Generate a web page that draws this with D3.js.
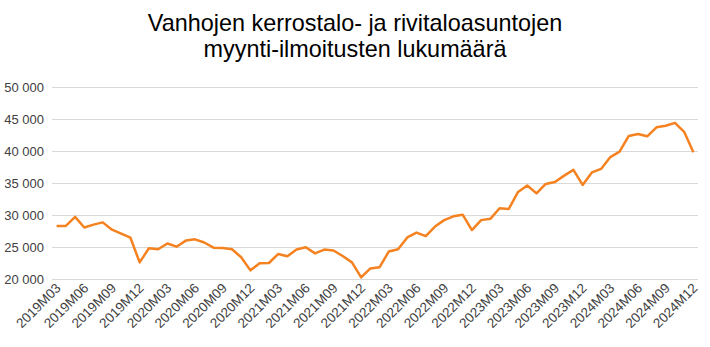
<!DOCTYPE html>
<html><head><meta charset="utf-8">
<script src="https://cdn.jsdelivr.net/npm/d3@7"></script>
<style>body{margin:0;background:#fff;}svg{display:block;font-family:"Liberation Sans",Arial,sans-serif;}</style>
</head><body>
<svg id="c" width="710" height="347"></svg>
<script>
const titleLines = ["Vanhojen kerrostalo- ja rivitaloasuntojen", "myynti-ilmoitusten lukumäärä"];
const years = [2019, 2020, 2021, 2022, 2023, 2024];
const months = [];
years.forEach(yr => { for (let m = 1; m <= 12; m++) { if (yr === 2019 && m < 3) continue; months.push(yr + "M" + String(m).padStart(2, "0")); } });
const values = [28280, 28300, 29700, 28050, 28500, 28850, 27700, 27100, 26450, 22600,
  24800, 24650, 25550, 25050, 26000, 26200, 25700, 24900, 24850, 24650, 23400, 21350,
  22450, 22500, 23900, 23550, 24600, 24950, 24000, 24600, 24450, 23600, 22600, 20250,
  21650, 21850, 24300, 24650, 26500, 27250, 26700, 28200, 29200, 29800, 30050, 27650,
  29200, 29400, 31050, 30950, 33600, 34600, 33380, 34850, 35150, 36150, 37050, 34700,
  36650, 37200, 39050, 39900, 42350, 42650, 42300, 43700, 43950, 44400, 43000, 39800];
const yTicks = [20000, 25000, 30000, 35000, 40000, 45000, 50000];

const svg = d3.select("#c");
const mLeft = 52, mRight = 698, mTop = 87, mBottom = 279;
const x = d3.scaleBand().domain(months).range([mLeft, mRight]);
const y = d3.scaleLinear().domain([20000, 50000]).range([mBottom, mTop]);
const fmt = v => d3.format(",")(v).replace(/,/g, "\u00a0");

svg.append("g").selectAll("text").data(titleLines).join("text")
  .attr("x", 355).attr("y", (d, i) => 31 + i * 26).attr("text-anchor", "middle")
  .attr("font-size", 23.4).attr("fill", "#000").text(d => d);

const yAxis = svg.append("g").attr("transform", `translate(${mLeft},0)`)
  .call(d3.axisLeft(y).tickValues(yTicks).tickSize(-(mRight - mLeft)).tickFormat(fmt).tickPadding(8));
yAxis.select(".domain").remove();
yAxis.selectAll("line").attr("stroke", "#d9d9d9").attr("stroke-width", 1);
yAxis.selectAll("text").attr("font-size", 13).attr("fill", "#404040").attr("font-family", "Liberation Sans, Arial, sans-serif");

const tickMonths = months.filter((d, i) => i % 3 === 0);
const xAxis = svg.append("g").attr("transform", `translate(0,${mBottom})`)
  .call(d3.axisBottom(x).tickValues(tickMonths).tickSize(0).tickPadding(0));
xAxis.select(".domain").remove();
xAxis.selectAll("text").attr("font-size", 13.5).attr("fill", "#404040")
  .attr("font-family", "Liberation Sans, Arial, sans-serif")
  .attr("text-anchor", "end").attr("dy", 0)
  .attr("transform", "translate(5,10) rotate(-45)");

const line = d3.line().x((d, i) => x(months[i]) + x.bandwidth() / 2).y(d => y(d));
svg.append("path").datum(values).attr("d", line).attr("fill", "none")
  .attr("stroke", "#f58220").attr("stroke-width", 2.5).attr("stroke-linejoin", "round");
</script>
</body></html>
